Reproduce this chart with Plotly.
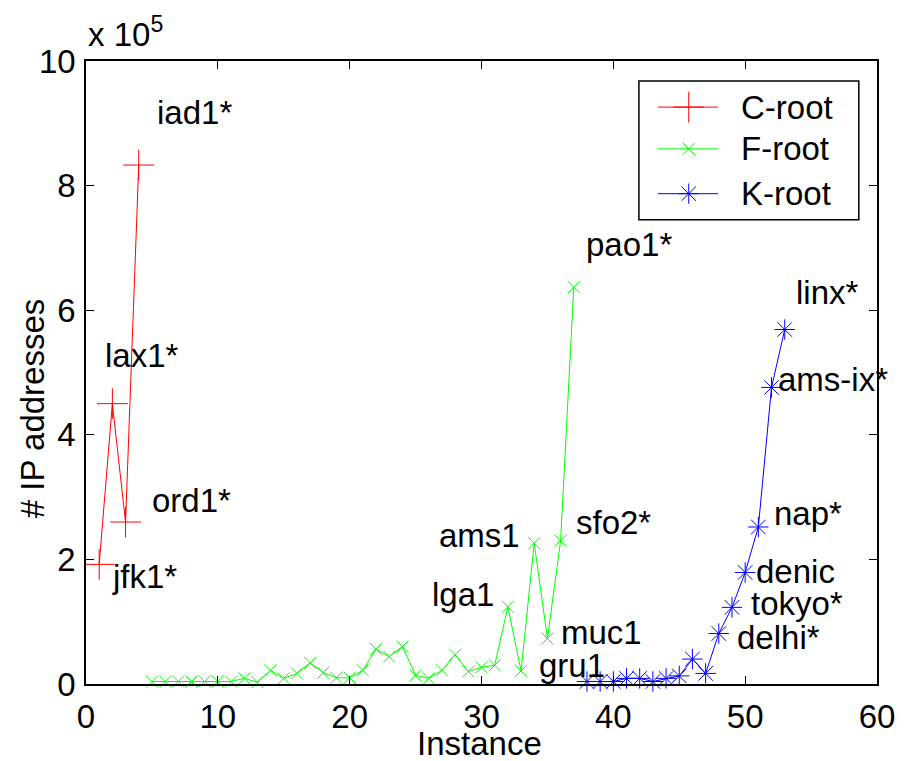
import plotly.graph_objects as go

# Data (values in units of 1e5 IP addresses)
c_x = [1, 2, 3, 4]
c_y = [1.92, 4.50, 2.60, 8.33]

f_x = list(range(5, 38))
f_y = [0.04, 0.04, 0.04, 0.04, 0.04, 0.04, 0.04, 0.09, 0.03, 0.22,
       0.09, 0.17, 0.34, 0.18, 0.10, 0.10, 0.22, 0.56, 0.44, 0.60,
       0.14, 0.09, 0.22, 0.47, 0.20, 0.27, 0.30, 1.24, 0.21, 2.26,
       0.73, 2.30, 6.37]

k_x = list(range(38, 54))
k_y = [0.04, 0.04, 0.04, 0.09, 0.09, 0.04, 0.09, 0.13, 0.40, 0.17,
       0.81, 1.23, 1.79, 2.52, 4.76, 5.69]

series_names = ["C-root", "F-root", "K-root"]

labels = ["iad1*", "lax1*", "ord1*", "jfk1*", "pao1*", "linx*", "ams-ix*",
          "nap*", "denic", "tokyo*", "delhi*", "sfo2*", "ams1", "lga1",
          "muc1", "gru1"]
label_x = [5.2, 1.3, 4.85, 1.8, 37.8, 53.7, 52.35, 52.05, 50.7, 50.3,
           49.2, 37.05, 26.6, 26.06, 35.9, 34.2]
label_y = [9.18, 5.28, 2.95, 1.72, 7.05, 6.29, 4.88, 2.74, 1.80, 1.30,
           0.75, 2.60, 2.39, 1.43, 0.83, 0.30]

x_ticks = [0, 10, 20, 30, 40, 50, 60]
y_ticks = [0, 2, 4, 6, 8, 10]

FONT = "Liberation Sans, Arial, sans-serif"
FS = 33

colors = ["#ff0000", "#00ff00", "#0000ff"]
symbols = ["cross-thin-open", "x-thin-open", "asterisk-open"]
sizes = [22, 12, 17]

fig = go.Figure()
for xs, ys, nm, col, sym, sz in zip([c_x, f_x, k_x], [c_y, f_y, k_y],
                                    series_names, colors, symbols, sizes):
    fig.add_trace(go.Scatter(x=xs, y=ys, mode="lines+markers", name=nm,
                             showlegend=False, cliponaxis=False,
                             line=dict(color=col, width=1),
                             marker=dict(symbol=sym, size=sz, color=col,
                                         line=dict(color=col, width=1))))

for t, lx, ly in zip(labels, label_x, label_y):
    fig.add_annotation(x=lx, y=ly, text=t, showarrow=False, xanchor="left",
                       yanchor="middle", font=dict(family=FONT, size=FS, color="black"))

# custom legend (paper coordinates)
leg_box = dict(x0=0.699, x1=0.977, y0=0.745, y1=0.968)
leg_rows = [0.926, 0.859, 0.787]
fig.add_shape(type="rect", xref="paper", yref="paper", line=dict(color="black", width=1.5),
              fillcolor="white", layer="below", **leg_box)
for nm, col, sym, sz, ry in zip(series_names, colors, symbols, sizes, leg_rows):
    fig.add_shape(type="line", xref="paper", yref="paper", x0=0.723, x1=0.799,
                  y0=ry, y1=ry, line=dict(color=col, width=1))
    fig.add_trace(go.Scatter(x=[0.762], y=[ry], xaxis="x2", yaxis="y2", mode="markers",
                             showlegend=False, hoverinfo="skip", cliponaxis=False,
                             marker=dict(symbol=sym, size=sz, color=col,
                                         line=dict(color=col, width=1))))
    fig.add_annotation(xref="paper", yref="paper", x=0.825, y=ry, text=nm, showarrow=False,
                       xanchor="left", yanchor="middle",
                       font=dict(family=FONT, size=FS, color="black"))

# exponent label
fig.add_annotation(xref="paper", yref="paper", x=0.0, y=1.0, yshift=6,
                   text="x 10<sup>5</sup>", showarrow=False, xanchor="left",
                   yanchor="bottom", font=dict(family=FONT, size=FS, color="black"))

# axis titles
fig.add_annotation(xref="paper", yref="paper", x=0.498, y=-0.096, text="Instance",
                   showarrow=False, xanchor="center", yanchor="middle",
                   font=dict(family=FONT, size=FS, color="black"))
fig.add_annotation(xref="paper", yref="paper", x=-0.068, y=0.443, text="# IP addresses",
                   textangle=-90, showarrow=False, xanchor="center", yanchor="middle",
                   font=dict(family=FONT, size=FS, color="black"))

axis_common = dict(showline=True, linecolor="black", linewidth=1.5, mirror="ticks",
                   ticks="inside", ticklen=8, tickcolor="black", showgrid=False,
                   zeroline=False, tickfont=dict(family=FONT, size=FS, color="black"))

fig.update_layout(
    width=899, height=753,
    margin=dict(l=78, r=30, t=53, b=77, autoexpand=False),
    paper_bgcolor="white", plot_bgcolor="white",
    font=dict(family=FONT, size=FS, color="black"),
    xaxis=dict(range=[0, 60], tickvals=x_ticks, ticklabelstandoff=3, **axis_common),
    yaxis=dict(range=[0, 10], tickvals=y_ticks, ticklabelstandoff=2, **axis_common),
    xaxis2=dict(range=[0, 1], overlaying="x", visible=False),
    yaxis2=dict(range=[0, 1], overlaying="y", visible=False),
    showlegend=False,
)

fig.write_html("out.html")
